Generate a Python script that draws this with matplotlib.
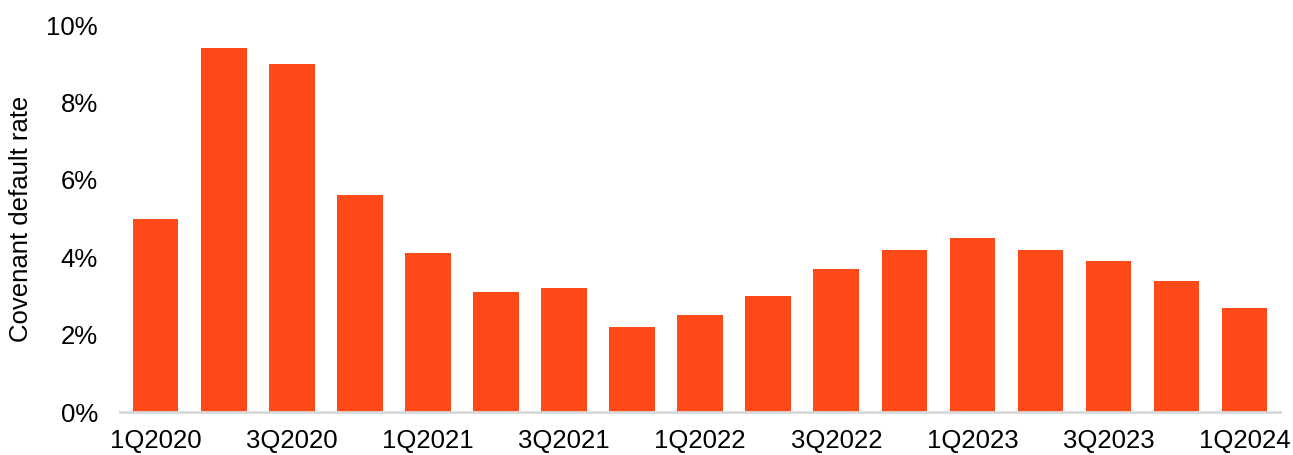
import matplotlib.pyplot as plt
import numpy as np

# quarterly covenant default rate, %
quarters = ['1Q2020', '2Q2020', '3Q2020', '4Q2020',
            '1Q2021', '2Q2021', '3Q2021', '4Q2021',
            '1Q2022', '2Q2022', '3Q2022', '4Q2022',
            '1Q2023', '2Q2023', '3Q2023', '4Q2023',
            '1Q2024']
rates = [5.0, 9.4, 9.0, 5.6,
         4.1, 3.1, 3.2, 2.2,
         2.5, 3.0, 3.7, 4.2,
         4.5, 4.2, 3.9, 3.4,
         2.7]
yticks = [0, 2, 4, 6, 8, 10]

plt.rcParams['font.family'] = ['Liberation Sans', 'DejaVu Sans']

fig = plt.figure(figsize=(12.93, 4.55), dpi=100)
ax = fig.add_axes([0.093, 0.094, 0.897, 0.851])

x = np.arange(len(quarters))
ax.bar(x, rates, width=0.67, color='#FF4A17', zorder=2)

ax.set_xlim(-0.52, len(quarters) - 0.48)
ax.set_ylim(0, 10)
ax.set_yticks(yticks)
ax.set_yticklabels([f'{t}%' for t in yticks])
ax.set_xticks(x[::2])
ax.set_xticklabels(quarters[::2])

for s in ['top', 'right', 'left']:
    ax.spines[s].set_visible(False)
ax.spines['bottom'].set_color('#d9d9d9')
ax.spines['bottom'].set_linewidth(2)

ax.tick_params(axis='both', length=0, labelsize=18.5, colors='black')
ax.tick_params(axis='x', pad=12)
ax.tick_params(axis='y', pad=16)
ax.set_ylabel('Covenant default rate', fontsize=18.5, labelpad=10)

fig.savefig('out.png', dpi=100)
